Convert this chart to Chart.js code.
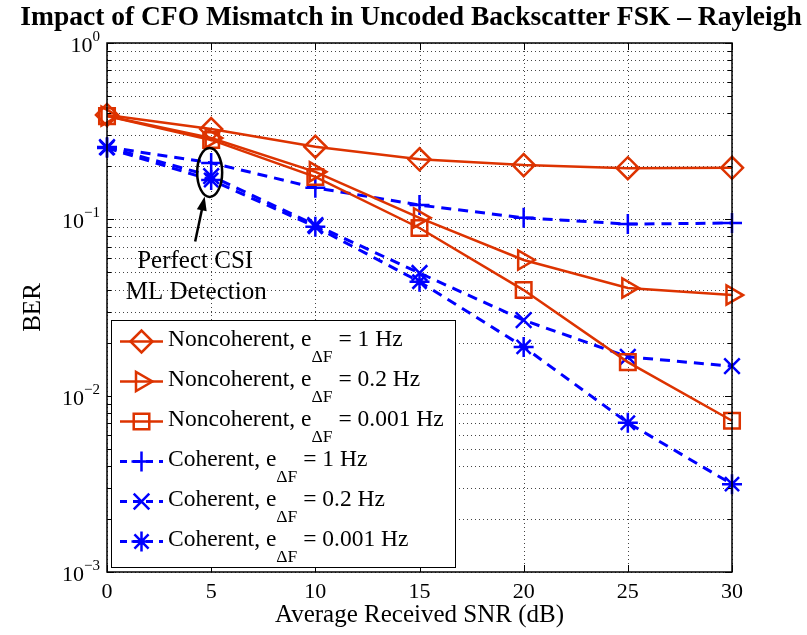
<!DOCTYPE html>
<html>
<head>
<meta charset="utf-8">
<script src="https://cdn.jsdelivr.net/npm/chart.js@4/dist/chart.umd.min.js"></script>
<style>
  html, body { margin: 0; padding: 0; background: #fff; }
  #wrap { width: 807px; height: 635px; }
</style>
</head>
<body>
<div id="wrap"><canvas id="ber-chart"></canvas></div>
<script>
// Datos
const snrDb = [0, 5, 10, 15, 20, 25, 30];
const nonCoh1Hz    = [0.391, 0.325, 0.258, 0.219, 0.203, 0.195, 0.196];
const nonCoh02Hz   = [0.385, 0.289, 0.186, 0.102, 0.0588, 0.0408, 0.0372];
const nonCoh0001Hz = [0.385, 0.282, 0.174, 0.0893, 0.0397, 0.0155, 0.00721];
const coh1Hz       = [0.257, 0.209, 0.151, 0.1205, 0.102, 0.094, 0.0953];
const coh02Hz      = [0.257, 0.176, 0.0928, 0.0496, 0.0268, 0.0166, 0.0147];
const coh0001Hz    = [0.254, 0.167, 0.0908, 0.0443, 0.0189, 0.00702, 0.00315];

const xTicks = [0, 5, 10, 15, 20, 25, 30];
const yDecades = [0, -1, -2, -3];

const legendMain = ['Noncoherent, e', 'Noncoherent, e', 'Noncoherent, e', 'Coherent, e', 'Coherent, e', 'Coherent, e'];
const legendTail = [' = 1 Hz', ' = 0.2 Hz', ' = 0.001 Hz', ' = 1 Hz', ' = 0.2 Hz', ' = 0.001 Hz'];

const ROJO = '#dd3300';
const AZUL = '#0000ff';
const SERIF = '"Liberation Serif", "Times New Roman", serif';

function puntos(vals) {
    return vals.map((v, i) => ({ x: snrDb[i], y: v }));
}

function serie(label, vals, color, estilo, rot, radio, discontinua) {
    return {
        label,
        data: puntos(vals),
        borderColor: color,
        backgroundColor: 'transparent',
        borderWidth: discontinua ? 3 : 2.5,
        borderDash: discontinua ? [10, 7] : [],
        pointStyle: estilo,
        rotation: rot,
        pointRadius: radio,
        pointBorderWidth: 2.5,
        pointBorderColor: color,
        pointBackgroundColor: 'transparent',
        pointHoverRadius: radio,
        tension: 0,
        clip: false
    };
}

const datasets = [
    serie('nc1', nonCoh1Hz, ROJO, 'rectRot', 0, 11, false),
    serie('nc02', nonCoh02Hz, ROJO, 'triangle', 90, 11, false),
    serie('nc0001', nonCoh0001Hz, ROJO, 'rect', 0, 11, false),
    serie('c1', coh1Hz, AZUL, 'cross', 0, 10, true),
    serie('c02', coh02Hz, AZUL, 'crossRot', 0, 11, true),
    serie('c0001', coh0001Hz, AZUL, 'star', 0, 10, true)
];

// Ejes estilo MATLAB: rejilla punteada, marco, ticks hacia dentro, textos
const ejesMatlab = {
    id: 'ejesMatlab',
    beforeDatasetsDraw(chart) {
        const { ctx, chartArea: a, scales: { x, y } } = chart;
        ctx.save();
        ctx.strokeStyle = '#444';
        ctx.lineWidth = 1;
        ctx.setLineDash([1, 3]);
        xTicks.forEach(t => {
            const px = Math.round(x.getPixelForValue(t)) + 0.5;
            ctx.beginPath(); ctx.moveTo(px, a.top); ctx.lineTo(px, a.bottom); ctx.stroke();
        });
        yDecades.forEach(d => {
            for (let m = 1; m <= 9; m++) {
                if (d === 0 && m > 1) continue;
                const py = Math.round(y.getPixelForValue(m * Math.pow(10, d))) + 0.5;
                ctx.beginPath(); ctx.moveTo(a.left, py); ctx.lineTo(a.right, py); ctx.stroke();
            }
        });
        ctx.restore();
    },
    afterDatasetsDraw(chart) {
        const { ctx, chartArea: a, scales: { x, y } } = chart;
        ctx.save();
        ctx.setLineDash([]);
        ctx.strokeStyle = '#000';
        ctx.lineWidth = 1;

        // ticks hacia dentro
        xTicks.forEach(t => {
            const px = Math.round(x.getPixelForValue(t)) + 0.5;
            ctx.beginPath();
            ctx.moveTo(px, a.bottom); ctx.lineTo(px, a.bottom - 7);
            ctx.moveTo(px, a.top); ctx.lineTo(px, a.top + 7);
            ctx.stroke();
        });
        yDecades.forEach(d => {
            for (let m = 1; m <= 9; m++) {
                if (d === 0 && m > 1) continue;
                const py = Math.round(y.getPixelForValue(m * Math.pow(10, d))) + 0.5;
                const len = m === 1 ? 7 : 4;
                ctx.beginPath();
                ctx.moveTo(a.left, py); ctx.lineTo(a.left + len, py);
                ctx.moveTo(a.right, py); ctx.lineTo(a.right - len, py);
                ctx.stroke();
            }
        });

        // anotación: elipse + flecha + texto
        const cx = x.getPixelForValue(5);
        const cy = (y.getPixelForValue(coh1Hz[1]) + y.getPixelForValue(coh0001Hz[1])) / 2;
        ctx.lineWidth = 2.5;
        ctx.beginPath();
        ctx.ellipse(cx - 1.5, cy + 1, 12.5, 24.5, 0, 0, Math.PI * 2);
        ctx.stroke();
        const tipX = cx - 6.5, tipY = cy + 25;
        const tailX = cx - 16, tailY = cy + 70;
        ctx.beginPath(); ctx.moveTo(tailX, tailY); ctx.lineTo(tipX + (tailX - tipX) * 0.2, tipY + (tailY - tipY) * 0.2); ctx.stroke();
        const ang = Math.atan2(tipY - tailY, tipX - tailX);
        ctx.fillStyle = '#000';
        ctx.beginPath();
        ctx.moveTo(tipX, tipY);
        ctx.lineTo(tipX - 14 * Math.cos(ang) + 5 * Math.sin(ang), tipY - 14 * Math.sin(ang) - 5 * Math.cos(ang));
        ctx.lineTo(tipX - 14 * Math.cos(ang) - 5 * Math.sin(ang), tipY - 14 * Math.sin(ang) + 5 * Math.cos(ang));
        ctx.closePath(); ctx.fill();
        ctx.font = '25px ' + SERIF;
        ctx.textAlign = 'center';
        ctx.textBaseline = 'alphabetic';
        ctx.fillText('Perfect CSI', cx - 16, cy + 97);
        ctx.fillText('ML Detection', cx - 15, cy + 128);

        // leyenda
        const lx = a.left + 4, ly = 320, lw = 344, lh = 247;
        ctx.lineWidth = 1;
        ctx.fillStyle = '#fff';
        ctx.fillRect(lx, ly, lw, lh);
        ctx.strokeStyle = '#000';
        ctx.strokeRect(lx + 0.5, ly + 0.5, lw, lh);
        datasets.forEach((ds, i) => {
            const ey = 341.5 + i * 40;
            ctx.save();
            ctx.strokeStyle = ds.borderColor;
            ctx.fillStyle = 'rgba(0,0,0,0)';
            ctx.lineWidth = ds.borderWidth;
            ctx.setLineDash(ds.borderDash.length ? [7, 6] : []);
            ctx.beginPath(); ctx.moveTo(lx + 9, ey); ctx.lineTo(lx + 52, ey); ctx.stroke();
            ctx.setLineDash([]);
            ctx.lineWidth = ds.pointBorderWidth;
            Chart.helpers.drawPoint(ctx, {
                pointStyle: ds.pointStyle,
                rotation: ds.rotation,
                radius: ds.pointRadius,
                borderWidth: ds.pointBorderWidth
            }, lx + 30.5, ey);
            ctx.restore();
            ctx.fillStyle = '#000';
            ctx.textAlign = 'left';
            ctx.font = '23.5px ' + SERIF;
            let tx = lx + 57;
            ctx.fillText(legendMain[i], tx, ey + 4);
            tx += ctx.measureText(legendMain[i]).width;
            ctx.font = '17.5px ' + SERIF;
            ctx.fillText('\u0394F', tx, ey + 20);
            tx += ctx.measureText('\u0394F').width;
            ctx.font = '23.5px ' + SERIF;
            ctx.fillText(legendTail[i], tx, ey + 4);
        });

        // marco
        ctx.strokeStyle = '#000';
        ctx.lineWidth = 1.5;
        ctx.strokeRect(a.left, a.top, a.right - a.left, a.bottom - a.top);

        // etiquetas del eje x
        ctx.fillStyle = '#000';
        ctx.font = '22px ' + SERIF;
        ctx.textAlign = 'center';
        xTicks.forEach(t => ctx.fillText(String(t), x.getPixelForValue(t), a.bottom + 26));
        ctx.font = '25px ' + SERIF;
        ctx.fillText('Average Received SNR (dB)', (a.left + a.right) / 2, a.bottom + 50);

        // etiquetas del eje y con exponente
        yDecades.forEach(d => {
            const py = y.getPixelForValue(Math.pow(10, d));
            const sup = d === 0 ? '0' : '\u2212' + String(-d);
            ctx.font = '15px ' + SERIF;
            ctx.textAlign = 'right';
            const supW = ctx.measureText(sup).width;
            ctx.fillText(sup, a.left - 7, py - 2);
            ctx.font = '22px ' + SERIF;
            ctx.fillText('10', a.left - 7 - supW, py + 9);
        });
        ctx.save();
        ctx.translate(40, (a.top + a.bottom) / 2);
        ctx.rotate(-Math.PI / 2);
        ctx.font = '25px ' + SERIF;
        ctx.textAlign = 'center';
        ctx.fillText('BER', 0, 0);
        ctx.restore();

        // título
        ctx.font = 'bold 27.5px ' + SERIF;
        ctx.textAlign = 'center';
        ctx.fillText('Impact of CFO Mismatch in Uncoded Backscatter FSK \u2013 Rayleigh', 411, 25);
        ctx.restore();
    }
};

const ctx = document.getElementById('ber-chart').getContext('2d');
const chart = new Chart(ctx, {
    type: 'line',
    data: { datasets },
    options: {
        responsive: true,
        maintainAspectRatio: false,
        animation: false,
        layout: { padding: { left: 107, right: 75, top: 43, bottom: 63 } },
        scales: {
            x: { type: 'linear', min: 0, max: 30, display: false },
            y: { type: 'logarithmic', min: 0.001, max: 1, display: false }
        },
        plugins: {
            legend: { display: false },
            tooltip: { enabled: false }
        }
    },
    plugins: [ejesMatlab]
});
</script>
</body>
</html>
